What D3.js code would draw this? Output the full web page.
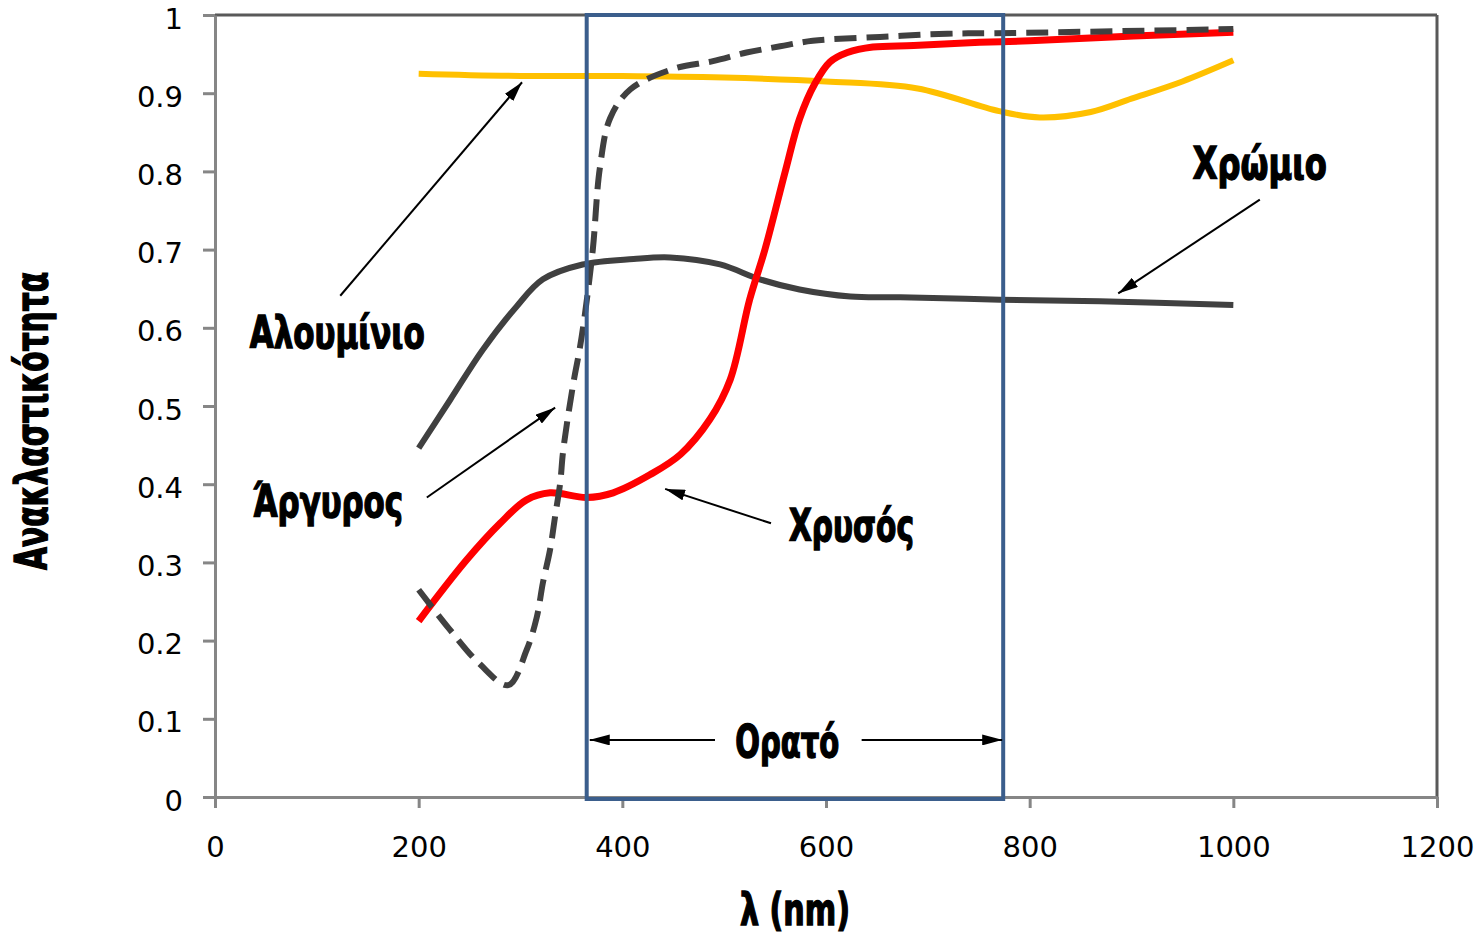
<!DOCTYPE html>
<html>
<head>
<meta charset="utf-8">
<script src="https://cdn.jsdelivr.net/npm/d3@7"></script>
<style>
  body { margin: 0; background: #fff; }
  .tick text { font-family: "DejaVu Sans", Verdana, sans-serif; font-size: 29px; fill: #000; }
  .lbl { font-family: "DejaVu Sans Condensed", "DejaVu Sans", sans-serif; font-weight: bold; font-size: 44px; fill: #000; stroke: #000; stroke-width: 1.4px; }
</style>
</head>
<body>
<div id="chart"></div>
<script>
// wavelength (nm) and reflectance
var alX = [200, 300, 400, 500, 600, 690, 770, 810, 860, 900, 950, 1000]
var alY = [0.925, 0.922, 0.922, 0.92, 0.915, 0.906, 0.877, 0.869, 0.876, 0.893, 0.915, 0.942]

var agX = [200, 230, 260, 288, 306, 316, 322, 329, 334, 339, 342, 352, 358, 363, 371, 378, 388, 408, 450, 489, 522, 555, 587, 653, 719, 784, 1000]
var agY = [0.265, 0.215, 0.17, 0.143, 0.188, 0.23, 0.274, 0.316, 0.359, 0.402, 0.444, 0.53, 0.572, 0.615, 0.70, 0.805, 0.868, 0.905, 0.931, 0.941, 0.952, 0.96, 0.967, 0.972, 0.976, 0.977, 0.982]

var auX = [200, 247, 280, 306, 329, 365, 391, 427, 457, 486, 506, 525, 540, 560, 574, 589, 604, 621, 646, 686, 751, 800, 902, 1000]
var auY = [0.225, 0.303, 0.35, 0.38, 0.389, 0.383, 0.389, 0.412, 0.438, 0.483, 0.534, 0.636, 0.70, 0.80, 0.867, 0.912, 0.94, 0.952, 0.959, 0.961, 0.965, 0.967, 0.973, 0.978]

var crX = [200, 231, 263, 296, 322, 361, 411, 447, 496, 535, 574, 624, 673, 771, 869, 1000]
var crY = [0.446, 0.508, 0.572, 0.627, 0.662, 0.681, 0.688, 0.690, 0.681, 0.662, 0.649, 0.640, 0.639, 0.636, 0.634, 0.629]

var xTicks = [0, 200, 400, 600, 800, 1000, 1200]
var yTicks = [0, 0.1, 0.2, 0.3, 0.4, 0.5, 0.6, 0.7, 0.8, 0.9, 1]

var visible = [365, 774]   // the boxed "visible" band

var width = 1481, height = 936
var margin = {left: 215, right: 44, top: 15, bottom: 139}

var svg = d3.select("#chart").append("svg")
    .attr("width", width)
    .attr("height", height)

var x = d3.scaleLinear().domain([0, 1200]).range([margin.left, width - margin.right])
var y = d3.scaleLinear().domain([0, 1]).range([height - margin.bottom, margin.top])

svg.append("defs").append("marker")
    .attr("id", "head")
    .attr("viewBox", "0 0 20 11")
    .attr("refX", 20).attr("refY", 5.5)
    .attr("markerWidth", 20).attr("markerHeight", 11)
    .attr("markerUnits", "userSpaceOnUse")
    .attr("orient", "auto")
  .append("path")
    .attr("d", "M0,0 L20,5.5 L0,11 Z")
    .attr("fill", "#000")

// frame: top and right
svg.append("line")
    .attr("x1", x(0)).attr("x2", x(1200)).attr("y1", y(1)).attr("y2", y(1))
    .attr("stroke", "#595959").attr("stroke-width", 3)
svg.append("line")
    .attr("x1", x(1200)).attr("x2", x(1200)).attr("y1", y(1)).attr("y2", y(0))
    .attr("stroke", "#595959").attr("stroke-width", 3)

var xAxis = svg.append("g")
    .attr("transform", "translate(0," + y(0) + ")")
    .call(d3.axisBottom(x).tickValues(xTicks).tickSize(11).tickPadding(28).tickSizeOuter(0)
      .tickFormat(d3.format("d")))
xAxis.selectAll("text").attr("dy", "0.71em")

var yAxis = svg.append("g")
    .attr("transform", "translate(" + x(0) + ",0)")
    .call(d3.axisLeft(y).tickValues(yTicks).tickSize(12).tickPadding(20).tickSizeOuter(0)
      .tickFormat(d3.format(".1~f")))
yAxis.selectAll("text").attr("dy", "0.45em")

svg.selectAll(".domain").attr("stroke", "#868686").attr("stroke-width", 3)
svg.selectAll(".tick line").attr("stroke", "#868686").attr("stroke-width", 3)

function drawSeries(xs, ys, color, w, dash) {
  var pts = xs.map(function(d, i) { return [d, ys[i]] })
  var line = d3.line()
      .x(function(d) { return x(d[0]) })
      .y(function(d) { return y(d[1]) })
      .curve(d3.curveCatmullRom.alpha(0.5))
  svg.append("path")
      .datum(pts)
      .attr("d", line)
      .attr("fill", "none")
      .attr("stroke", color)
      .attr("stroke-width", w)
      .attr("stroke-linejoin", "round")
      .attr("stroke-dasharray", dash || null)
}

drawSeries(alX, alY, "#FFC000", 6)
drawSeries(crX, crY, "#404040", 6)
drawSeries(auX, auY, "#FF0000", 7)
drawSeries(agX, agY, "#404040", 6, "22,10")

// visible band box
svg.append("rect")
    .attr("x", x(visible[0])).attr("y", y(1))
    .attr("width", x(visible[1]) - x(visible[0]))
    .attr("height", y(0) - y(1) + 2)
    .attr("fill", "none")
    .attr("stroke", "#3B5E8C")
    .attr("stroke-width", 4)

// annotations (in data units)
var arrows = [
  [[123, 0.641], [301.5, 0.914]],
  [[208, 0.383], [334, 0.498]],
  [[546, 0.350], [442, 0.394]],
  [[1026, 0.764], [887, 0.644]],
  [[491, 0.073], [368, 0.073]],
  [[635, 0.073], [773, 0.073]]
]
arrows.forEach(function(a) {
  svg.append("line")
      .attr("x1", x(a[0][0])).attr("y1", y(a[0][1]))
      .attr("x2", x(a[1][0])).attr("y2", y(a[1][1]))
      .attr("stroke", "#000").attr("stroke-width", 2)
      .attr("marker-end", "url(#head)")
})

var labels = [
  {t: "Αλουμίνιο", x: 120, y: 0.595, w: 175},
  {t: "Άργυρος", x: 111, y: 0.378, w: 150},
  {t: "Χρυσός", x: 625, y: 0.348, w: 125},
  {t: "Χρώμιο", x: 1026, y: 0.81, w: 134},
  {t: "Ορατό", x: 562, y: 0.072, w: 104}
]
labels.forEach(function(l) {
  svg.append("text")
      .attr("class", "lbl")
      .attr("x", x(l.x)).attr("y", y(l.y))
      .attr("dy", "0.36em")
      .attr("text-anchor", "middle")
      .attr("textLength", l.w)
      .attr("lengthAdjust", "spacingAndGlyphs")
      .text(l.t)
})

svg.append("text")
    .attr("class", "lbl")
    .attr("x", 795).attr("y", 909)
    .attr("dy", "0.36em")
    .attr("text-anchor", "middle")
    .attr("textLength", 110)
    .attr("lengthAdjust", "spacingAndGlyphs")
    .text("λ (nm)")

svg.append("text")
    .attr("class", "lbl")
    .attr("transform", "translate(31,421) rotate(-90)")
    .attr("dy", "0.36em")
    .attr("text-anchor", "middle")
    .attr("textLength", 298)
    .attr("lengthAdjust", "spacingAndGlyphs")
    .text("Ανακλαστικότητα")
</script>
</body>
</html>
